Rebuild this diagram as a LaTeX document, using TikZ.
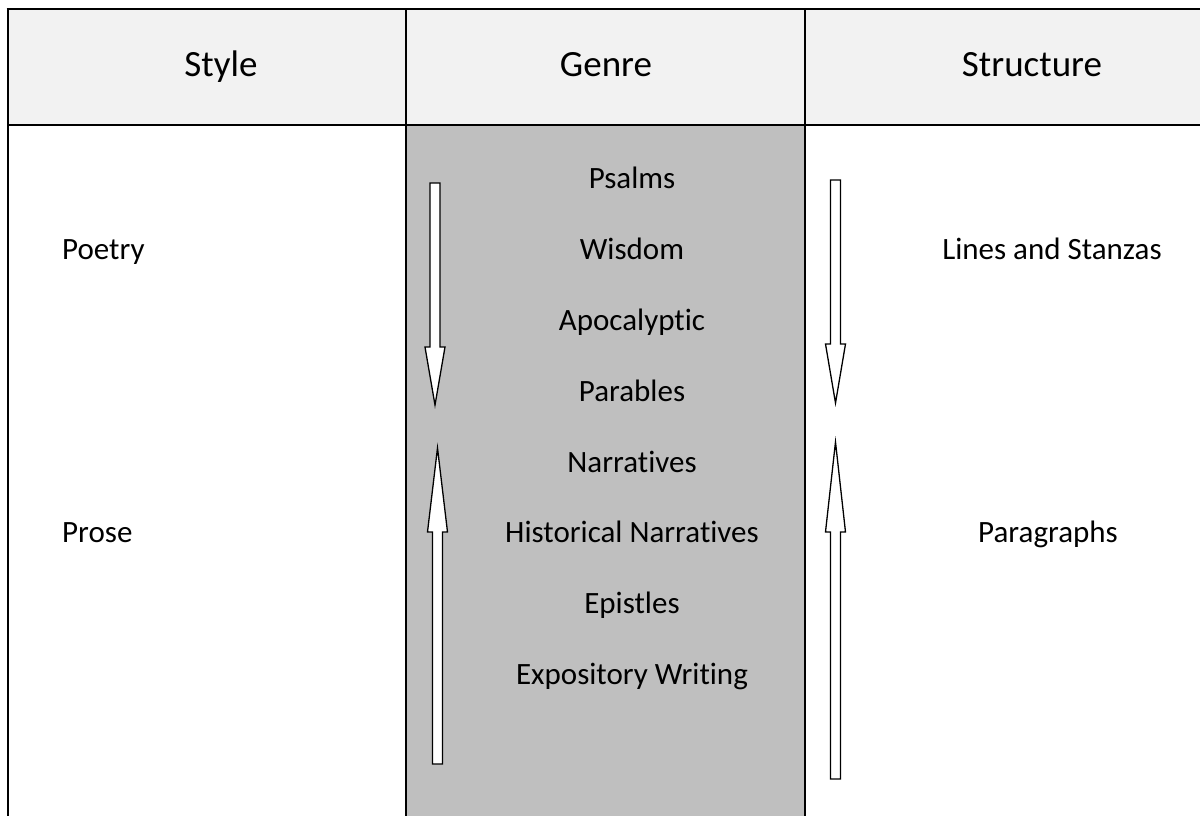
\documentclass[tikz,border=0pt]{standalone}
\usepackage{fontspec}
\setmainfont{Carlito}[Ligatures=NoCommon,RawFeature={-liga;-dlig}]
\definecolor{headfill}{HTML}{F2F2F2}
\definecolor{genrefill}{HTML}{BFBFBF}
\begin{document}
\begin{tikzpicture}[x=1pt,y=-1pt,
  gridline/.style={line width=2.6pt,black},
  headtext/.style={anchor=base,inner sep=0pt,font=\fontsize{37}{44}\selectfont},
  celltext/.style={anchor=base,inner sep=0pt,font=\fontsize{31}{37}\selectfont},
  blockarrow/.style={draw=black,fill=white,line width=1.3pt,line join=miter}]
\useasboundingbox (0,0) rectangle (1200,816);
% fills
\fill[headfill] (8,9) rectangle (1200,125);
\fill[genrefill] (406,125) rectangle (805,816);
% grid
\draw[gridline] (6.7,9) -- (1200,9);
\draw[gridline] (8,125) -- (1200,125);
\draw[gridline] (8,9) -- (8,816);
\draw[gridline] (406,9) -- (406,816);
\draw[gridline] (805,9) -- (805,816);
% header
\node[headtext] (hstyle) at (221,77) {Style};
\node[headtext] (hgenre) at (606,77) {Genre};
\node[headtext] (hstruct) at (1032,77) {Structure};
% style column
\node[celltext,anchor=base west] (poetry) at (62,259) {Poetry};
\node[celltext,anchor=base west] (prose) at (62,542) {Prose};
% genre column
\node[celltext] (g1) at (632,188) {Psalms};
\node[celltext] (g2) at (632,259) {Wisdom};
\node[celltext] (g3) at (632,330) {Apocalyptic};
\node[celltext] (g4) at (632,401) {Parables};
\node[celltext] (g5) at (632,472) {Narratives};
\node[celltext] (g6) at (632,542) {Historical Narratives};
\node[celltext] (g7) at (632,613) {Epistles};
\node[celltext] (g8) at (632,684) {Expository Writing};
% structure column
\node[celltext] (lines) at (1052,259) {Lines and Stanzas};
\node[celltext] (paras) at (1048,542) {Paragraphs};
% block arrows
\draw[blockarrow] (430,183) -- (440,183) -- (440,347) -- (445,347) -- (435,405) -- (425,347) -- (430,347) -- cycle;
\draw[blockarrow] (432.5,764) -- (442.5,764) -- (442.5,532) -- (447.5,532) -- (437.5,448) -- (427.5,532) -- (432.5,532) -- cycle;
\draw[blockarrow] (830.5,180) -- (840.5,180) -- (840.5,344) -- (845.5,344) -- (835.5,403) -- (825.5,344) -- (830.5,344) -- cycle;
\draw[blockarrow] (830.5,779) -- (840.5,779) -- (840.5,532) -- (845.5,532) -- (835.5,442) -- (825.5,532) -- (830.5,532) -- cycle;
\end{tikzpicture}
\end{document}
